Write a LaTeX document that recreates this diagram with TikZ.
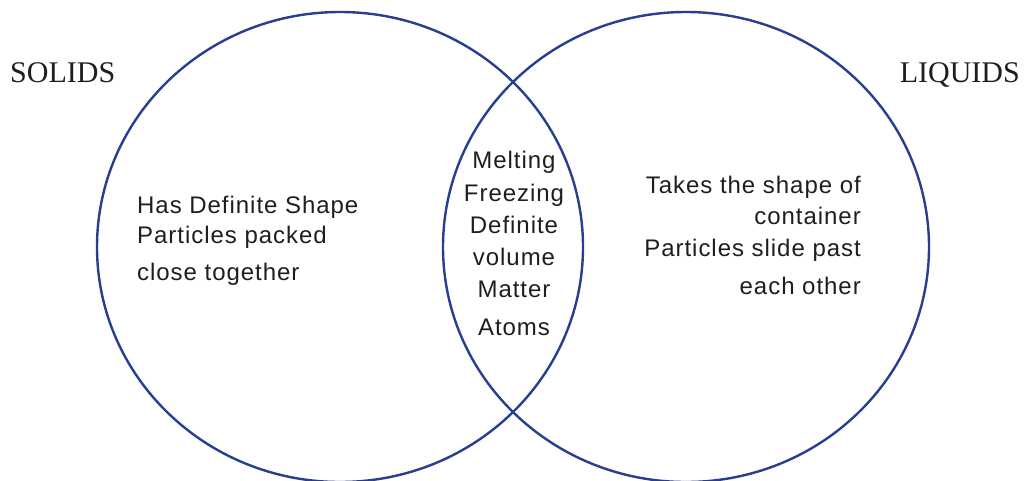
\documentclass[tikz,border=0pt]{standalone}
\usepackage{fontspec}
\usepackage{tikz}
\usetikzlibrary{positioning}
\setmainfont{Liberation Serif}
\newfontfamily\factfont{Liberation Sans}[LetterSpace=4]
\definecolor{vennblue}{RGB}{40, 62, 145}
\definecolor{inkgray}{RGB}{30, 30, 30}
\tikzset{
  vennring/.style={line width=2.4pt, draw=vennblue},
  settitle/.style={inner sep=0pt, font=\fontsize{30}{36}\selectfont, text=inkgray},
  fact/.style={inner sep=0pt, font=\factfont\fontsize{24}{29}\selectfont, text=inkgray}
}

\begin{document}
\begin{tikzpicture}[x=1pt, y=-1pt]
    \useasboundingbox (0, 0) rectangle (1024, 480);

    % Two overlapping sets
    \draw[vennring] (340, 247) ellipse [x radius=243pt, y radius=235pt];
    \draw[vennring] (686, 247) ellipse [x radius=243pt, y radius=235pt];

    % Set titles
    \node[settitle, anchor=base west] (solids) at (10, 82) {SOLIDS};
    \node[settitle, anchor=base east] (liquids) at (1020, 82) {LIQUIDS};

    % Solids only
    \node[fact, anchor=base west] (s1) at (137, 213) {Has Definite Shape};
    \node[fact, anchor=base west] (s2) at (137, 243) {Particles packed};
    \node[fact, anchor=base west] (s3) at (137, 280) {close together};

    % Shared by both
    \node[fact, anchor=base] (b1) at (514, 168) {Melting};
    \node[fact, anchor=base] (b2) at (514, 201) {Freezing};
    \node[fact, anchor=base] (b3) at (514, 233) {Definite};
    \node[fact, anchor=base] (b4) at (514, 265) {volume};
    \node[fact, anchor=base] (b5) at (514, 297) {Matter};
    \node[fact, anchor=base] (b6) at (514, 335) {Atoms};

    % Liquids only
    \node[fact, anchor=base east] (l1) at (861, 193) {Takes the shape of};
    \node[fact, anchor=base east] (l2) at (861, 224) {container};
    \node[fact, anchor=base east] (l3) at (861, 256) {Particles slide past};
    \node[fact, anchor=base east] (l4) at (861, 294) {each other};
\end{tikzpicture}
\end{document}
